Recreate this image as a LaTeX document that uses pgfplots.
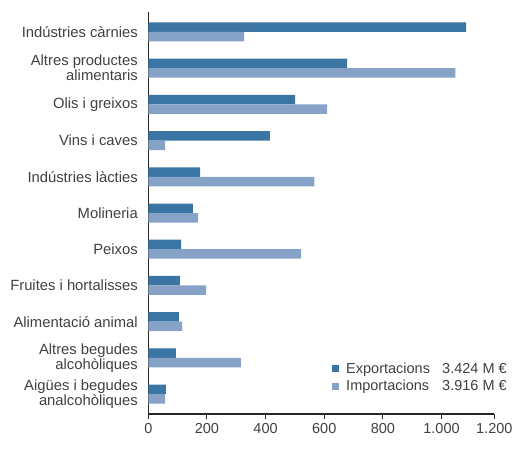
\documentclass[border=0pt]{standalone}
\usepackage{pgfplots}
\pgfplotsset{compat=1.18}
\usepackage{fontspec}
\setmainfont{Liberation Sans}
\definecolor{expc}{RGB}{59,117,164}
\definecolor{impc}{RGB}{134,162,198}
\definecolor{txt}{RGB}{64,64,64}
\begin{document}
\begin{tikzpicture}
\useasboundingbox (-148.3pt,-46pt) rectangle (370.7pt,414pt);
\begin{axis}[
  scale only axis,
  width=346pt, height=402pt,
  xmin=0, xmax=1180,
  ymin=-0.55, ymax=10.55,
  y dir=reverse,
  axis x line*=bottom,
  axis y line*=left,
  axis line style={-, line width=1.2pt, color=black!85},
  xtick={0,200,400,600,800,1000,1180},
  xticklabels={0,200,400,600,800,1.000,1.200},
  x tick style={line width=1pt, color=black!85},
  tick align=outside,
  major tick length=5pt,
  ytick={0,...,10},
  y tick style={draw=none},
  yticklabels={Indústries càrnies,{Altres productes\\alimentaris},Olis i greixos,Vins i caves,Indústries làcties,Molineria,Peixos,Fruites i hortalisses,Alimentació animal,{Altres begudes\\alcohòliques},{Aigües i begudes\\analcohòliques}},
  yticklabel style={align=right, font=\fontsize{14.8}{15}\selectfont, text=txt, xshift=-2pt},
  xticklabel style={font=\fontsize{14.5}{15}\selectfont, text=txt, yshift=-1pt},
  /pgf/number format/assume math mode=true,
  legend style={draw=none, fill=none, at={(0.531,0.133)}, anchor=north west,
    font=\fontsize{14.5}{15}\selectfont, text=txt, row sep=1.5pt, inner sep=0pt},
  legend cell align=left,
  legend image code/.code={\fill[#1] (0pt,-3.5pt) rectangle (7pt,3.5pt);},
]
\addplot[xbar, bar width=9.5pt, bar shift=4.75pt, fill=expc, draw=none] coordinates {
(1084,0) (678,1) (501,2) (415,3) (177,4) (152,5) (112,6) (108,7) (104,8) (94,9) (60,10)};
\addlegendentry{\hspace{5pt}\makebox[96pt][l]{Exportacions}3.424 M €}
\addplot[xbar, bar width=9.5pt, bar shift=-4.75pt, fill=impc, draw=none] coordinates {
(327,0) (1047,1) (610,2) (57,3) (566,4) (170,5) (521,6) (197,7) (115,8) (316,9) (57,10)};
\addlegendentry{\hspace{5pt}\makebox[96pt][l]{Importacions}3.916 M €}
\end{axis}
\end{tikzpicture}
\end{document}
